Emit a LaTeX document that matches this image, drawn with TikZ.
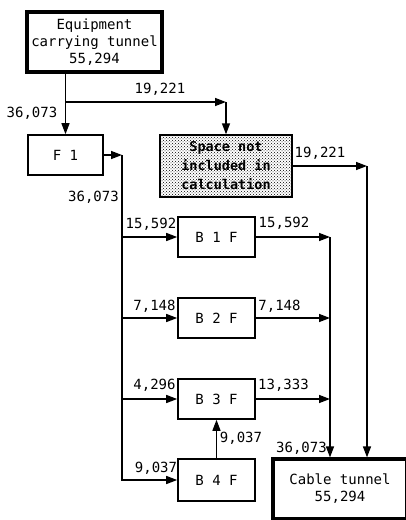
\documentclass[tikz,border=0pt]{standalone}
\usepackage{fontspec}
\newfontfamily\flowfont{DejaVu Sans Mono}
\usetikzlibrary{arrows.meta,patterns}
\tikzset{
  room/.style={rectangle, draw, line width=1.6pt, inner sep=0pt, align=center},
  tunnel/.style={room, line width=3.2pt},
  skip/.style={room, line width=1.4pt, pattern=crosshatch dots,
    font=\flowfont\bfseries\fontsize{13.5}{19}\selectfont},
  qty/.style={inner sep=1pt},
  >={Triangle[length=11pt,width=8pt]}
}

\begin{document}
\begin{tikzpicture}[x=1pt, y=-1pt, line width=1.4pt,
  every node/.style={font=\flowfont\fontsize{14}{17}\selectfont}]
  \useasboundingbox (0,0) rectangle (405,520);
  \node[tunnel, minimum width=135pt, minimum height=60pt] (eqt) at (94.5,42) {Equipment\\carrying tunnel\\55,294};
  \node[room, minimum width=75pt, minimum height=40pt] (f1) at (65.5,155) {F 1};
  \node[skip, minimum width=132pt, minimum height=62pt] (snc) at (226,166) {Space not\\included in\\calculation};
  \node[room, minimum width=77pt, minimum height=40pt] (b1f) at (216.5,237) {B 1 F};
  \node[room, minimum width=77pt, minimum height=40pt] (b2f) at (216.5,318) {B 2 F};
  \node[room, minimum width=77pt, minimum height=40pt] (b3f) at (216.5,399) {B 3 F};
  \node[room, minimum width=77pt, minimum height=42pt] (b4f) at (216.5,480) {B 4 F};
  \node[tunnel, minimum width=134pt, minimum height=60pt] (ct) at (340,489) {Cable tunnel\\55,294};
  % corners
  \coordinate (sp) at (65.5,102);
  \coordinate (k1) at (226,102);
  \coordinate (k2) at (122,155);
  \coordinate (k3) at (367,166);
  \coordinate (k4) at (330,237);
  % flows
  \draw[->] (eqt.south -| f1.north) -- (f1.north);
  \draw[->] (sp) -- (k1);
  \draw[->] (k1) -- (snc.north);
  \draw[->] (f1.east) -- (k2);
  \draw[->] (k2) |- (b4f.west);
  \draw[->] (k2 |- b1f.west) -- (b1f.west);
  \draw[->] (k2 |- b2f.west) -- (b2f.west);
  \draw[->] (k2 |- b3f.west) -- (b3f.west);
  \draw[->] (b4f.north) -- (b3f.south);
  \draw[->] (b1f.east) -- (k4);
  \draw[->] (b2f.east) -- (k4 |- b2f.east);
  \draw[->] (b3f.east) -- (k4 |- b3f.east);
  \draw[->] (k4) -- (k4 |- ct.north);
  \draw[->] (snc.east) -- (k3);
  \draw[->] (k3) -- (k3 |- ct.north);
  % quantities
  \node[qty] (q1) at (32,113) {36,073};
  \node[qty] (q2) at (160,89) {19,221};
  \node[qty] (q3) at (320,153) {19,221};
  \node[qty] (q4) at (93.5,197) {36,073};
  \node[qty] (q5) at (151,224) {15,592};
  \node[qty] (q6) at (284,223) {15,592};
  \node[qty] (q7) at (154.5,306) {7,148};
  \node[qty] (q8) at (279.5,306) {7,148};
  \node[qty] (q9) at (154.5,385) {4,296};
  \node[qty] (q10) at (283.5,385) {13,333};
  \node[qty] (q11) at (241,438) {9,037};
  \node[qty] (q12) at (156,468) {9,037};
  \node[qty] (q13) at (301.5,448) {36,073};
\end{tikzpicture}
\end{document}
